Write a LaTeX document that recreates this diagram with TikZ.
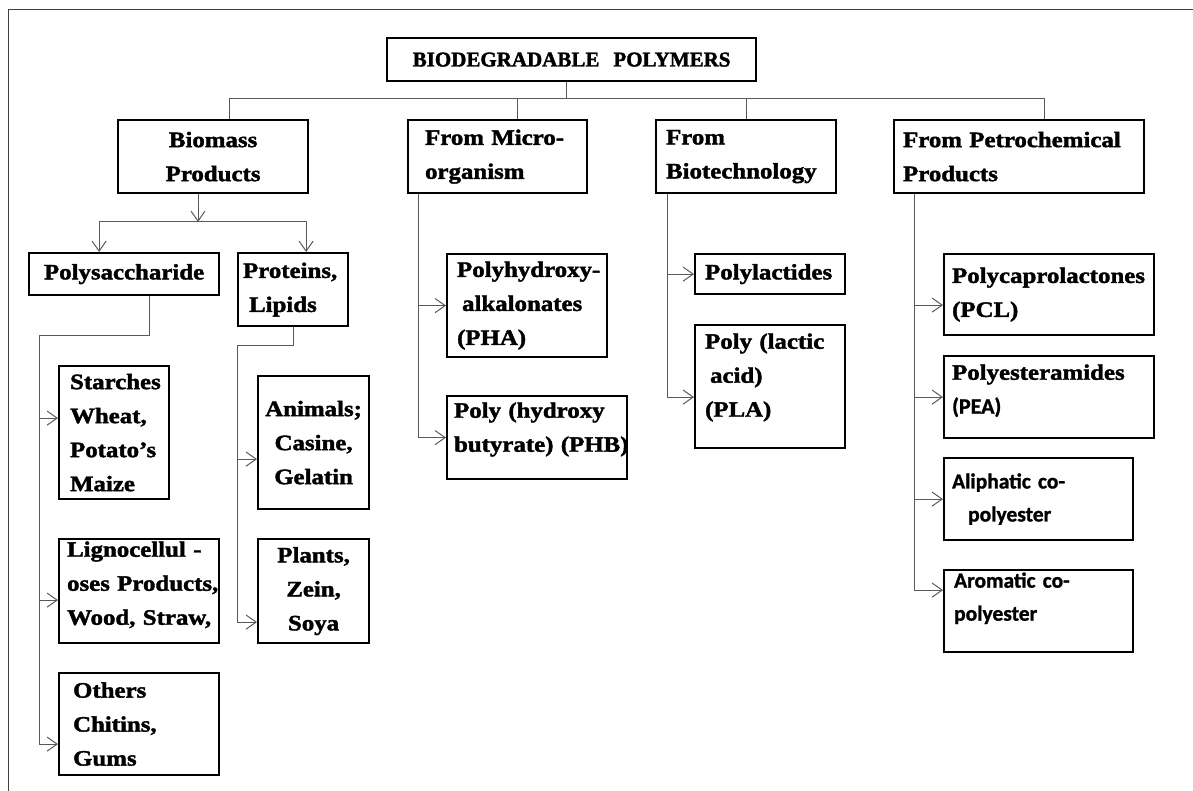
\documentclass[tikz,border=0pt]{standalone}
\usepackage{fontspec}
\setmainfont{Liberation Serif}[FakeStretch=1.13, BoldFeatures={FakeBold=1.8}]
\newfontfamily\titlefont{Liberation Serif}[BoldFeatures={FakeBold=1.8}]
\newfontfamily\sansbox{Carlito}[BoldFeatures={FakeBold=1.2}]
\usetikzlibrary{arrows.meta}
\newcommand{\lowpad}[1]{\rule[-#1]{0pt}{#1}}
\hyphenpenalty=10000
\exhyphenpenalty=10000

\begin{document}
\begin{tikzpicture}[x=1pt,y=-1pt,
    pbox/.style={draw, line width=2.2pt, anchor=north west, inner ysep=0pt, inner xsep=10pt,
        align=left, font=\fontsize{22}{34}\selectfont\bfseries},
    sbox/.style={pbox, font=\sansbox\fontsize{21.5}{33}\selectfont\bfseries},
    conn/.style={draw=black!65, line width=1pt},
    arr/.style={-{Straight Barb[length=10pt,width=14pt,line width=1pt]}}]
        \useasboundingbox (0,0) rectangle (1193,791);
        %Straight Lines: frame
        \draw [draw=black!75, line width=1pt] (1193,10) -- (8,10) -- (8,791);
        %Shape: title
        \node [pbox, align=center, font=\titlefont\fontsize{21}{34}\selectfont\bfseries,
            text width=349pt, minimum height=43pt] (title) at (386,37) {BIODEGRADABLE\hspace{14pt}POLYMERS};
        %Shapes: first row
        \node [pbox, align=center, text width=170pt, minimum height=73pt] (biomass) at (117,119) {Biomass\\Products};
        \node [pbox, inner xsep=17pt, text width=145pt, minimum height=73pt] (micro) at (407,119) {From~Micro-\\organism};
        \node [pbox, text width=160pt, minimum height=73pt] (biotech) at (655,119) {From\\Biotechnology};
        \node [pbox, inner xsep=9pt, text width=232pt, minimum height=73pt] (petro) at (893,119) {From~Petrochemical\\Products};
        %Shapes: biomass branch
        \node [pbox, align=center, text width=170pt, minimum height=42pt] (polysac) at (28,252) {Polysaccharide};
        \node [pbox, inner xsep=5pt, text width=100pt, minimum height=73pt] (proteins) at (237,252) {Proteins,\\\hspace*{6pt}Lipids};
        \node [pbox, inner xsep=11pt, text width=88pt, minimum height=133pt] (starch) at (58,365) {Starches\\Wheat,\\Potato’s\\Maize};
        \node [pbox, inner xsep=8pt, text width=144pt, minimum height=104pt] (ligno) at (58,538) {Lignocellul~-\\oses~Products,\\Wood,~Straw,\lowpad{16pt}};
        \node [pbox, inner xsep=14pt, text width=132pt, minimum height=102pt] (others) at (58,672) {Others\\Chitins,\\Gums};
        \node [pbox, align=center, inner xsep=6pt, text width=99pt, minimum height=133pt] (animals) at (257,375) {Animals;\\Casine,\\Gelatin};
        \node [pbox, align=center, inner xsep=6pt, text width=99pt, minimum height=104pt] (plants) at (257,538) {Plants,\\Zein,\\Soya};
        %Shapes: micro-organism branch
        \node [pbox, text width=140pt, minimum height=103pt] (pha) at (446,253) {Polyhydroxy-\\\hspace*{5pt}alkalonates\\(PHA)};
        \node [pbox, inner xsep=7pt, text width=166pt, minimum height=83pt] (phb) at (446,395) {Poly~(hydroxy\\butyrate)~(PHB)\lowpad{21pt}};
        %Shapes: biotechnology branch
        \node [pbox, text width=130pt, minimum height=40pt] (polylac) at (694,253) {Polylactides};
        \node [pbox, text width=130pt, minimum height=123pt] (pla) at (694,324) {Poly~(lactic\\\hspace*{5pt}acid)\\(PLA)\lowpad{23pt}};
        %Shapes: petrochemical branch
        \node [pbox, inner xsep=8pt, text width=194pt, minimum height=81pt] (pcl) at (943,253) {Polycaprolactones\\(PCL)};
        \node [pbox, inner xsep=8pt, text width=194pt, minimum height=82pt] (pea) at (943,355) {Polyesteramides\\{\sansbox (PEA)}\lowpad{16pt}};
        \node [sbox, inner xsep=8pt, text width=173pt, minimum height=82pt] (aliph) at (943,457) {Aliphatic~co-\\\hspace*{16pt}polyester};
        \node [sbox, inner xsep=10pt, text width=169pt, minimum height=82pt] (arom) at (943,569) {Aromatic~co-\\polyester\lowpad{29pt}};
        %Connectors: top bus
        \coordinate (bus) at (566,99);
        \draw [conn] (title.south -| bus) -- (bus);
        \draw [conn] ([xshift=16pt]biomass.north) |- (bus);
        \draw [conn] ([xshift=20pt]micro.north) |- (bus);
        \draw [conn] (biotech.north) |- (bus);
        \draw [conn] ([xshift=25pt]petro.north) |- (bus);
        %Connectors: biomass
        \coordinate (fork) at (198,222);
        \draw [conn,arr] (biomass.south -| fork) -- (fork);
        \draw [conn,arr] (fork) -| ([xshift=-25pt]polysac.north);
        \draw [conn,arr] (fork) -| ([xshift=13pt]proteins.north);
        \coordinate (pspine) at (39,335);
        \draw [conn] ([xshift=25pt]polysac.south) |- (pspine);
        \foreach \n/\s in {starch/14.5, ligno/-9, others/-20}
            \draw [conn,arr] (pspine) |- ([yshift=\s pt]\n.west);
        \coordinate (rspine) at (237,345);
        \draw [conn] (proteins.south) |- (rspine);
        \foreach \n/\s in {animals/-16.5, plants/-31}
            \draw [conn,arr] (rspine) |- ([yshift=\s pt]\n.west);
        %Connectors: other columns
        \coordinate (mspine) at ([xshift=-79.5pt]micro.south);
        \foreach \n in {pha, phb}
            \draw [conn,arr] (mspine) |- (\n.west);
        \coordinate (bspine) at ([xshift=-79pt]biotech.south);
        \foreach \n/\s in {polylac/0, pla/-10.5}
            \draw [conn,arr] (bspine) |- ([yshift=\s pt]\n.west);
        \coordinate (cspine) at ([xshift=-105pt]petro.south);
        \foreach \n/\s in {pcl/-10.5, pea/0, aliph/0, arom/21}
            \draw [conn,arr] (cspine) |- ([yshift=\s pt]\n.west);
\end{tikzpicture}
\end{document}
